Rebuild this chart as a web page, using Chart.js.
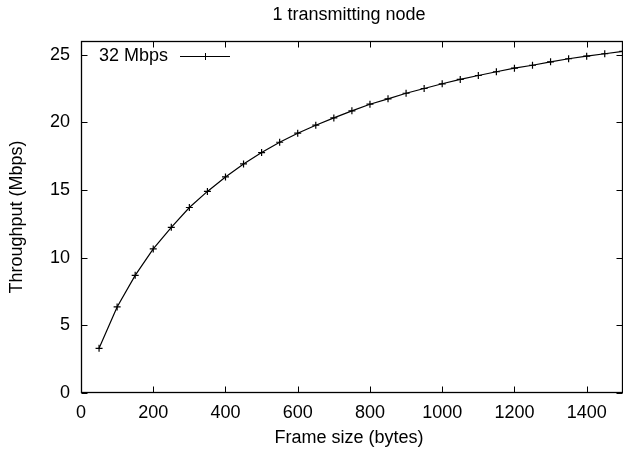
<!DOCTYPE html>
<html>
<head>
<meta charset="utf-8">
<script src="https://cdn.jsdelivr.net/npm/chart.js@4"></script>
<style>
  html, body { margin: 0; padding: 0; background: #fff; overflow: hidden; width: 623px; height: 451px; }
  canvas { display: block; }
</style>
</head>
<body>
<canvas id="chart" width="628" height="451"></canvas>
<script>
// frame size (bytes) and measured throughput (Mbps)
const frameSizes = [50, 100, 150, 200, 250, 300, 350, 400, 450, 500, 550, 600, 650, 700, 750,
  800, 850, 900, 950, 1000, 1050, 1100, 1150, 1200, 1250, 1300, 1350, 1400, 1450, 1500];
const throughput32 = [3.30, 6.36, 8.69, 10.64, 12.24, 13.70, 14.89, 15.96, 16.92, 17.76, 18.52, 19.19, 19.78, 20.32, 20.84,
  21.33, 21.73, 22.14, 22.49, 22.84, 23.16, 23.45, 23.73, 23.99, 24.21, 24.46, 24.69, 24.88, 25.06, 25.24];
const seriesLabel = "32 Mbps";
const xTicks = [0, 200, 400, 600, 800, 1000, 1200, 1400];
const yTicks = [0, 5, 10, 15, 20, 25];
const chartTitle = "1 transmitting node";
const xTitle = "Frame size (bytes)";
const yTitle = "Throughput (Mbps)";

const FAMILY = "'Liberation Sans', Arial, sans-serif";
const FONT = "18px " + FAMILY;

// gnuplot style frame: border, inward mirrored ticks, legend and titles
const gnuplotFrame = {
  id: "gnuplotFrame",
  afterDatasetsDraw(chart) {
    const { ctx, chartArea: a, scales } = chart;
    const L = Math.round(a.left) + 0.5, R = Math.round(a.right) - 0.5;
    const T = Math.round(a.top) + 0.5, B = Math.round(a.bottom) - 0.5;
    const tl = 6;
    ctx.save();
    ctx.strokeStyle = "#000";
    ctx.lineWidth = 1;
    ctx.beginPath();
    xTicks.forEach((v) => {
      const px = Math.round(scales.x.getPixelForValue(v)) + 0.5;
      ctx.moveTo(px, B); ctx.lineTo(px, B - tl);
      ctx.moveTo(px, T); ctx.lineTo(px, T + tl);
    });
    yTicks.forEach((v) => {
      const py = Math.round(scales.y.getPixelForValue(v)) + 0.5;
      ctx.moveTo(L, py); ctx.lineTo(L + tl, py);
      ctx.moveTo(R, py); ctx.lineTo(R - tl, py);
    });
    ctx.stroke();
    ctx.lineWidth = 1.3;
    ctx.strokeRect(L, T, R - L, B - T);

    // legend: text then sample line with marker
    ctx.fillStyle = "#000";
    ctx.font = FONT;
    ctx.textBaseline = "middle";
    ctx.textAlign = "right";
    ctx.fillText(seriesLabel, 168, 56);
    ctx.lineWidth = 1;
    ctx.beginPath();
    ctx.moveTo(180, 56.5); ctx.lineTo(230, 56.5);
    ctx.moveTo(205.5, 53); ctx.lineTo(205.5, 60);
    ctx.moveTo(202, 56.5); ctx.lineTo(209, 56.5);
    ctx.stroke();

    // titles
    ctx.textAlign = "center";
    ctx.fillText(chartTitle, 349, 15);
    ctx.fillText(xTitle, 349, 438);
    ctx.translate(17, 217);
    ctx.rotate(-Math.PI / 2);
    ctx.fillText(yTitle, 0, 0);
    ctx.restore();
  }
};

new Chart(document.getElementById("chart"), {
  type: "line",
  data: {
    datasets: [
      {
        label: seriesLabel,
        data: frameSizes.map((x, i) => ({ x, y: throughput32[i] })),
        borderColor: "#000",
        backgroundColor: "#000",
        borderWidth: 1.2,
        pointStyle: "cross",
        pointRadius: 3.5,
        pointBorderWidth: 1.2,
        pointBorderColor: "#000",
        tension: 0,
        fill: false,
      },
    ],
  },
  options: {
    responsive: false,
    animation: false,
    layout: { padding: { top: 41, right: 0, left: 0, bottom: 0 } },
    plugins: { legend: { display: false }, tooltip: { enabled: false } },
    scales: {
      x: {
        type: "linear",
        min: 0,
        max: 1500,
        afterBuildTicks: (s) => { s.ticks = xTicks.map((v) => ({ value: v })); },
        afterFit: (s) => { s.height = 58; },
        grid: { display: false, drawTicks: false },
        border: { display: false },
        ticks: { color: "#000", padding: 9, maxRotation: 0, autoSkip: false,
          callback: (v) => String(v),
          font: { family: FAMILY, size: 18 } },
      },
      y: {
        min: 0,
        max: 26,
        afterBuildTicks: (s) => { s.ticks = yTicks.map((v) => ({ value: v })); },
        afterFit: (s) => { s.width = 81; },
        grid: { display: false, drawTicks: false },
        border: { display: false },
        ticks: { color: "#000", padding: 11,
          callback: (v) => String(v),
          font: { family: FAMILY, size: 18 } },
      },
    },
  },
  plugins: [gnuplotFrame],
});
</script>
</body>
</html>
